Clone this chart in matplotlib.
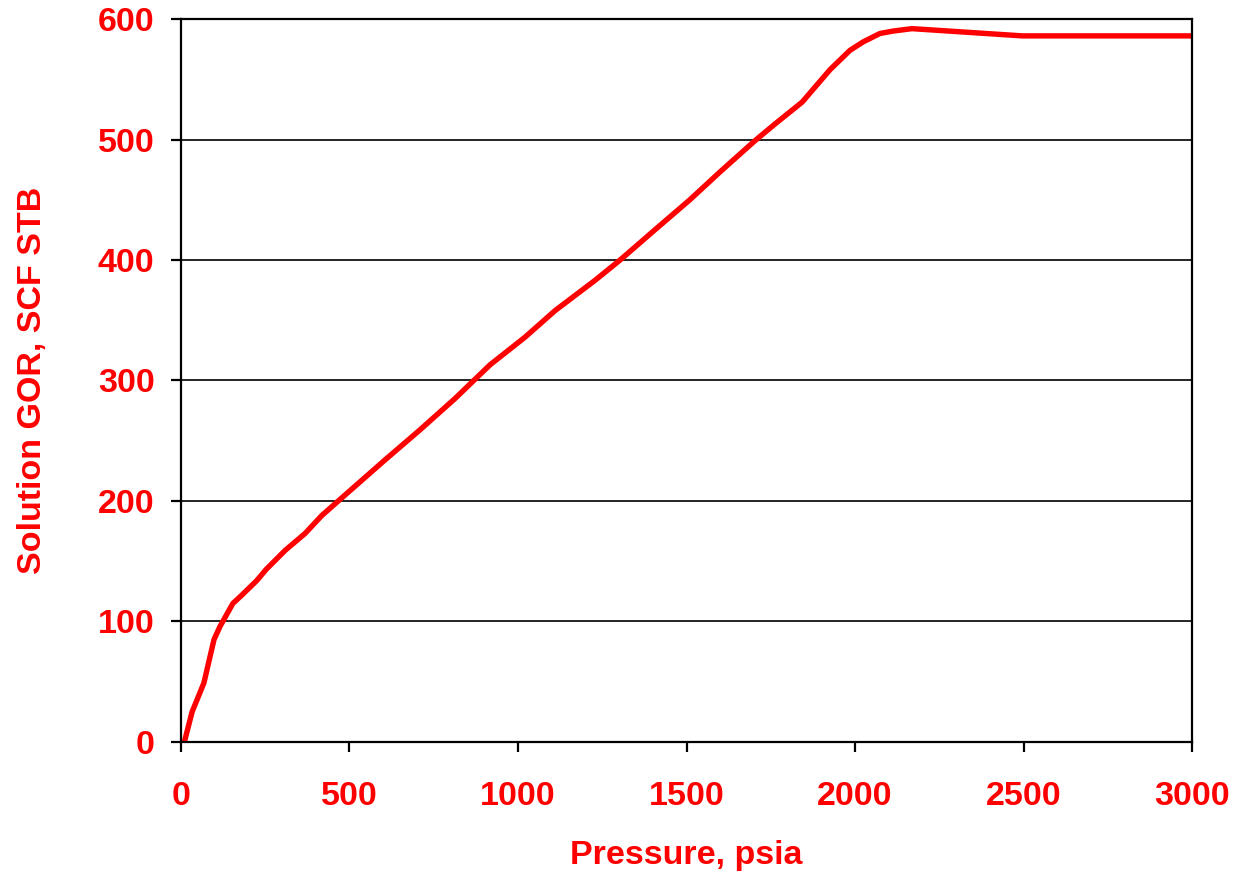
import matplotlib
matplotlib.use("Agg")
import matplotlib.pyplot as plt

# pressure (psia) and solution GOR (SCF/STB)
pressure = [10, 33, 68, 98, 116, 154, 181, 225, 252, 309, 368, 418, 487, 605,
            709, 813, 917, 1021, 1110, 1228, 1303, 1406, 1510, 1599, 1703,
            1763, 1843, 1926, 1985, 2024, 2074, 2113, 2169, 2496, 3000]
gor = [0, 25, 49, 85, 96, 115, 122, 134, 143, 159, 173, 188, 205, 234,
       259, 285, 313, 336, 358, 383, 400, 425, 450, 473, 499,
       513, 531, 558, 574, 581, 588, 590, 592, 586, 586]

RED = '#ff0000'
FS = 24.5

plt.rcParams['font.family'] = ['Liberation Sans', 'DejaVu Sans']
plt.rcParams['font.weight'] = 'bold'

fig = plt.figure(figsize=(12.49, 8.72), dpi=100)
ax = fig.add_axes([0.1449, 0.1491, 0.8095, 0.8291])

ax.plot(pressure, gor, color=RED, lw=3.9, solid_joinstyle='round',
        solid_capstyle='butt')

ax.set_xlim(0, 3000)
ax.set_ylim(0, 600)
ax.set_xticks(range(0, 3001, 500))
ax.set_yticks(range(0, 601, 100))
ax.yaxis.grid(True, color='black', lw=1.2)
ax.set_axisbelow(True)

for s in ax.spines.values():
    s.set_linewidth(1.6)
    s.set_color('black')

ax.tick_params(axis='both', direction='out', length=7, width=1.6, colors='black',
               labelcolor=RED, labelsize=FS)
ax.tick_params(axis='x', pad=21)
ax.tick_params(axis='y', pad=12)
for lab in ax.get_xticklabels() + ax.get_yticklabels():
    lab.set_fontweight('bold')

ax.set_xlabel('Pressure, psia', color=RED, fontsize=FS, fontweight='bold', labelpad=20)
ax.set_ylabel('Solution GOR, SCF STB', color=RED, fontsize=FS, fontweight='bold', labelpad=36)

fig.savefig('out.png', dpi=100)
